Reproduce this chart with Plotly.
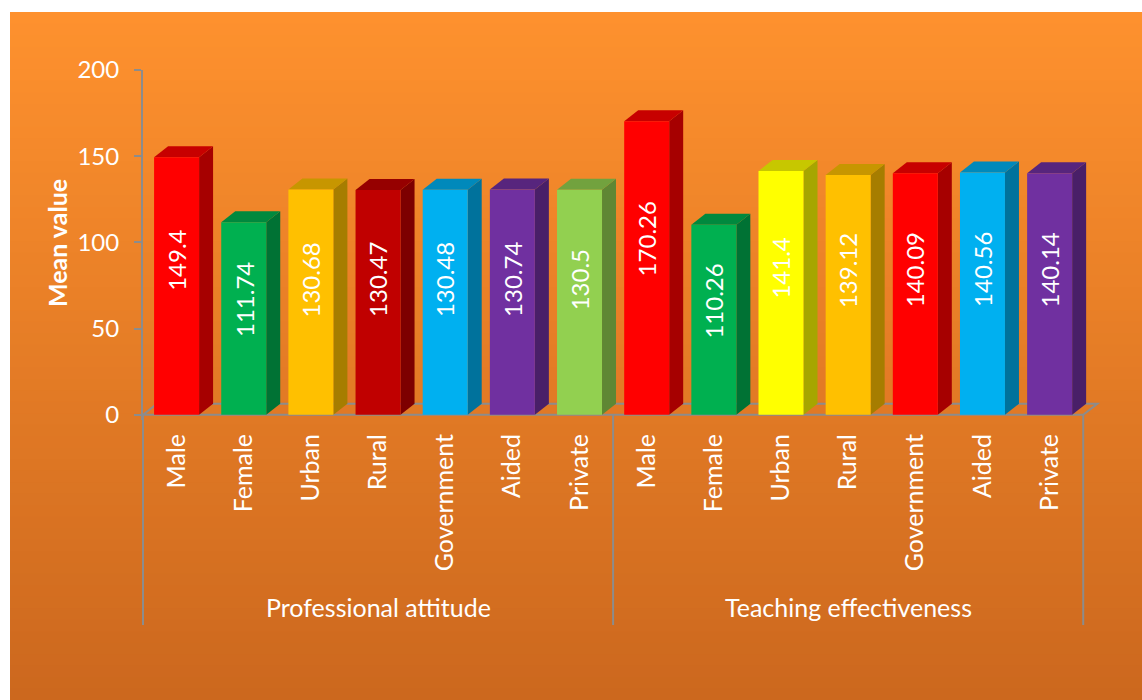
import plotly.graph_objects as go

# ---------------- data ----------------
groups = ["Professional attitude", "Teaching effectiveness"]
categories = ["Male", "Female", "Urban", "Rural", "Government", "Aided", "Private"]
prof_values = [149.4, 111.74, 130.68, 130.47, 130.48, 130.74, 130.5]
teach_values = [170.26, 110.26, 141.4, 139.12, 140.09, 140.56, 140.14]
prof_colors = ["#FF0000", "#00B050", "#FFC000", "#C00000", "#00B0F0", "#7030A0", "#92D050"]
teach_colors = ["#FF0000", "#00B050", "#FFFF00", "#FFC000", "#FF0000", "#00B0F0", "#7030A0"]
y_ticks = [0, 50, 100, 150, 200]
y_title = "Mean value"

# ---------------- layout geometry ----------------
FIG_W, FIG_H = 1142, 700
L, R, T, B = 143, 42, 70, 280
PW, PH = FIG_W - L - R, FIG_H - T - B
XR = [-0.5, 13.75]
YR = [-3, 200]
FONT = "Lato"
AXIS_GRAY = "#8C8C8C"


def paper_x(px):
    return (px - L) / PW


def paper_y(py):
    return (FIG_H - B - py) / PH


def data_to_paper_x(x):
    return (x - XR[0]) / (XR[1] - XR[0])


def shade(hex_color, f):
    h = hex_color.lstrip("#")
    r, g, b = (int(h[i:i + 2], 16) for i in (0, 2, 4))
    return "rgb(%d,%d,%d)" % (round(r * f), round(g * f), round(b * f))


values = prof_values + teach_values
colors = prof_colors + teach_colors
labels = categories + categories
xs = list(range(len(values)))

BAR_W = 0.67
DX = 14 / (PW / (XR[1] - XR[0]))      # depth offset in x units
DY = 11 / (PH / (YR[1] - YR[0]))      # depth offset in y units

shapes = []

# background gradient (orange panel)
N = 60
top_c = (254, 145, 46)
bot_c = (204, 104, 30)
y_start, y_end = 12, 700
for k in range(N):
    t = k / (N - 1)
    c = tuple(round(top_c[i] + (bot_c[i] - top_c[i]) * t) for i in range(3))
    py0 = y_start + (y_end - y_start) * k / N
    py1 = y_start + (y_end - y_start) * (k + 1) / N + 1
    shapes.append(dict(type="rect", xref="paper", yref="paper", layer="below",
                       x0=paper_x(10), x1=paper_x(FIG_W + 5),
                       y0=paper_y(py0), y1=paper_y(min(py1, 702)),
                       fillcolor="rgb(%d,%d,%d)" % c, line=dict(width=0)))

# floor (3D base)
x_first, x_last = -0.5, len(values) - 0.5
shapes.append(dict(type="path", xref="x", yref="y", layer="below",
                   path=f"M {x_first},0 L {x_first + DX},{DY} L {x_last + DX},{DY} L {x_last},0 Z",
                   fillcolor="rgba(0,0,0,0)", line=dict(color=AXIS_GRAY, width=2)))

# 3D side and top faces for each bar
for x, v, col in zip(xs, values, colors):
    xl, xr = x - BAR_W / 2, x + BAR_W / 2
    shapes.append(dict(type="path", xref="x", yref="y", layer="below",
                       path=f"M {xr},0 L {xr + DX},{DY} L {xr + DX},{v + DY} L {xr},{v} Z",
                       fillcolor=shade(col, 0.65), line=dict(width=0)))
    shapes.append(dict(type="path", xref="x", yref="y", layer="below",
                       path=f"M {xl},{v} L {xl + DX},{v + DY} L {xr + DX},{v + DY} L {xr},{v} Z",
                       fillcolor=shade(col, 0.78), line=dict(width=0)))

# group dividers below the axis
for xd in [x_first, len(categories) - 0.5, x_last]:
    shapes.append(dict(type="line", xref="paper", yref="paper", layer="above",
                       x0=data_to_paper_x(xd), x1=data_to_paper_x(xd),
                       y0=paper_y(415), y1=paper_y(625),
                       line=dict(color=AXIS_GRAY, width=2)))

fig = go.Figure()
fig.add_trace(go.Bar(
    x=xs, y=values, width=BAR_W,
    marker=dict(color=colors, line=dict(width=0)),
    hoverinfo="skip", showlegend=False,
))

annotations = []
# value labels
for x, v in zip(xs, values):
    annotations.append(dict(x=x, y=v * 0.6, xref="x", yref="y", text=str(v),
                            textangle=-90, showarrow=False,
                            font=dict(family=FONT, size=24, color="white"),
                            xanchor="center", yanchor="middle"))
# group labels
for gi, g in enumerate(groups):
    center = gi * len(categories) + (len(categories) - 1) / 2
    annotations.append(dict(x=center, y=paper_y(607), xref="x", yref="paper", text=g,
                            showarrow=False, font=dict(family=FONT, size=25, color="white"),
                            xanchor="center", yanchor="middle"))
# y axis title
annotations.append(dict(x=paper_x(57), y=paper_y(243), xref="paper", yref="paper",
                        text="<b>%s</b>" % y_title, textangle=-90, showarrow=False,
                        font=dict(family=FONT, size=25, color="white"),
                        xanchor="center", yanchor="middle"))

fig.update_layout(
    width=FIG_W, height=FIG_H,
    margin=dict(l=L, r=R, t=T, b=B, pad=0),
    paper_bgcolor="white", plot_bgcolor="rgba(0,0,0,0)",
    shapes=shapes, annotations=annotations,
    showlegend=False,
    font=dict(family=FONT, color="white", size=24),
    xaxis=dict(range=XR, tickmode="array", tickvals=xs, ticktext=labels,
               tickangle=-90, showgrid=False, zeroline=False, showline=False,
               ticks="outside", ticklen=3, tickcolor="rgba(0,0,0,0)",
               tickfont=dict(family=FONT, size=25, color="white"), fixedrange=True),
    yaxis=dict(range=YR, tickmode="array", tickvals=y_ticks,
               showgrid=False, zeroline=False, showline=True, linecolor=AXIS_GRAY, linewidth=2,
               ticks="outside", ticklen=7, tickwidth=2, tickcolor=AXIS_GRAY,
               tickfont=dict(family=FONT, size=24, color="white"), fixedrange=True,
               ticklabelstandoff=10),
    bargap=0.33,
)

fig.write_html("out.html", include_plotlyjs=True,
               config={"displayModeBar": False, "staticPlot": True},
               post_script="document.body.style.margin='0';document.body.style.overflow='hidden';")
